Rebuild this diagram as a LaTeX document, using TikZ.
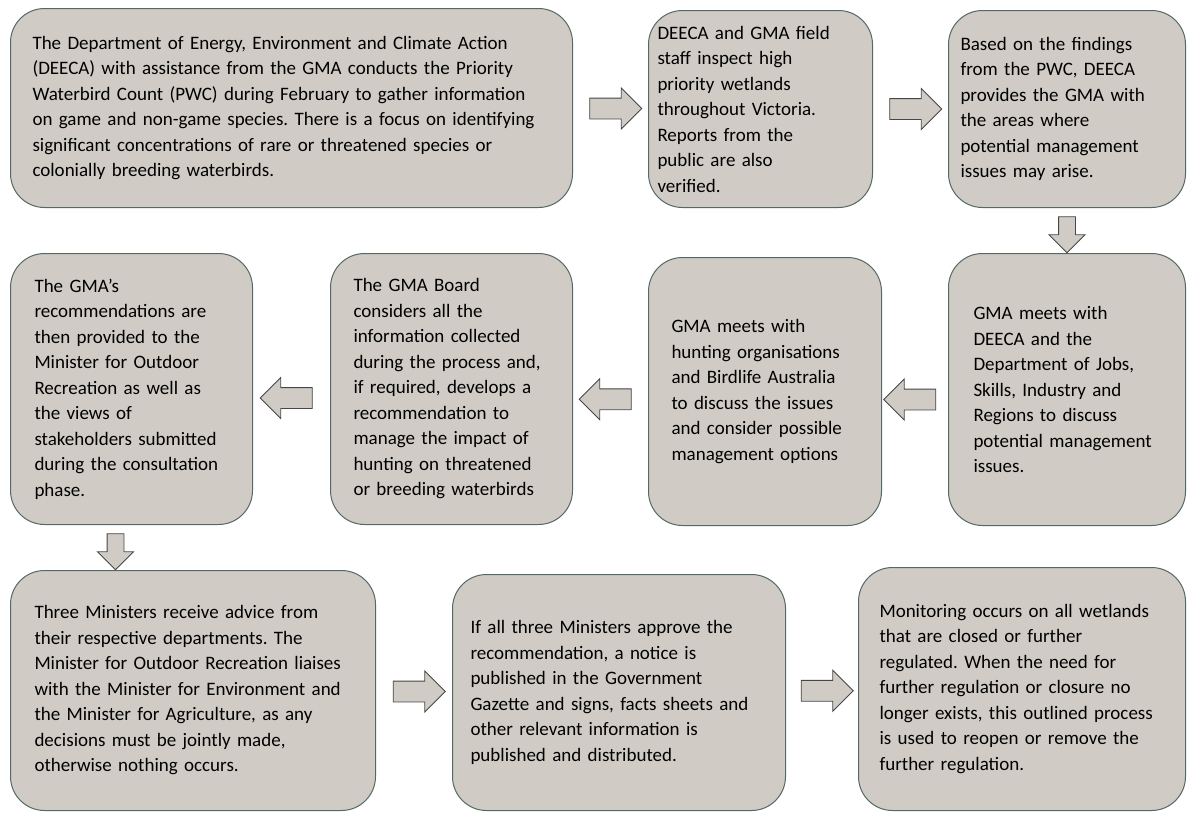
\documentclass[tikz,border=0pt]{standalone}
\usepackage{fontspec}
\setmainfont{Carlito}
\usetikzlibrary{shapes.arrows,calc}
\definecolor{boxfill}{RGB}{208,204,197}
\definecolor{boxline}{RGB}{84,104,100}
\definecolor{arrowline}{RGB}{70,70,70}
\frenchspacing
\hyphenpenalty=10000
\tikzset{
  stage/.style={draw=boxline,fill=boxfill,line width=1pt,rounded corners=34pt,anchor=north west,align=left,inner ysep=0pt,font=\fontsize{19}{25.5}\selectfont},
  blockarrow/.style={single arrow,draw=arrowline,fill=boxfill,line width=0.9pt,inner xsep=0pt,inner ysep=10pt,minimum height=52pt,single arrow head extend=10pt},
  downarrow/.style={blockarrow,inner xsep=8pt,inner ysep=0pt,minimum height=36pt,single arrow head extend=9.5pt,shape border rotate=270}
}
\begin{document}
\begin{tikzpicture}[x=1pt,y=-1pt]
	\useasboundingbox (0,0) rectangle (1187,812);
	% top row
	\node[stage,minimum width=562pt,minimum height=199pt,text width=518pt,inner xsep=22pt] (pwc) at (10,8) {The Department of Energy, Environment and Climate Action\\(DEECA) with assistance from the GMA conducts the Priority\\Waterbird Count (PWC) during February to gather information\\on game and non-game species. There is a focus on identifying\\significant concentrations of rare or threatened species or\\colonially breeding waterbirds.};
	\node[stage,minimum width=224pt,minimum height=197pt,text width=206pt,inner xsep=9pt] (inspect) at (648,10) {DEECA and GMA field\\staff inspect high\\priority wetlands\\throughout Victoria.\\Reports from the\\public are also\\verified.};
	\node[stage,minimum width=237pt,minimum height=197pt,text width=213pt,inner xsep=12pt] (areas) at (948,10) {Based on the findings\\from the PWC, DEECA\\provides the GMA with\\the areas where\\potential management\\issues may arise.};
	% middle row
	\node[stage,minimum width=237pt,minimum height=272pt,text width=187pt,inner xsep=25pt] (deeca) at (948,253) {GMA meets with\\DEECA and the\\Department of Jobs,\\Skills, Industry and\\Regions to discuss\\potential management\\issues.};
	\node[stage,minimum width=233pt,minimum height=268pt,text width=187pt,inner xsep=23pt] (hunters) at (648,257) {GMA meets with\\hunting organisations\\and Birdlife Australia\\to discuss the issues\\and consider possible\\management options};
	\node[stage,minimum width=242pt,minimum height=271pt,text width=196pt,inner xsep=23pt] (board) at (330,253) {The GMA Board\\considers all the\\information collected\\during the process and,\\if required, develops a\\recommendation to\\manage the impact of\\hunting on threatened\\or breeding waterbirds};
	\node[stage,minimum width=242pt,minimum height=271pt,text width=194pt,inner xsep=24pt] (recs) at (10,253) {The GMA’s\\recommendations are\\then provided to the\\Minister for Outdoor\\Recreation as well as\\the views of\\stakeholders submitted\\during the consultation\\phase.};
	% bottom row
	\node[stage,minimum width=365pt,minimum height=240pt,text width=317pt,inner xsep=24pt] (ministers) at (10,570) {Three Ministers receive advice from\\their respective departments. The\\Minister for Outdoor Recreation liaises\\with the Minister for Environment and\\the Minister for Agriculture, as any\\decisions must be jointly made,\\otherwise nothing occurs.};
	\node[stage,minimum width=333pt,minimum height=236pt,text width=297pt,inner xsep=18pt] (gazette) at (452,574) {If all three Ministers approve the\\recommendation, a notice is\\published in the Government\\Gazette and signs, facts sheets and\\other relevant information is\\published and distributed.};
	\node[stage,minimum width=327pt,minimum height=243pt,text width=285pt,inner xsep=21pt] (monitor) at (858,567) {Monitoring occurs on all wetlands\\that are closed or further\\regulated. When the need for\\further regulation or closure no\\longer exists, this outlined process\\is used to reopen or remove the\\further regulation.};
	% arrows
	\node[blockarrow] (a1) at ($(pwc.east)!0.5!(inspect.west)$) {};
	\node[blockarrow] (a2) at ($(inspect.east)!0.5!(areas.west)$) {};
	\node[downarrow] (a3) at ($(areas.south)!0.5!(deeca.north)$) {};
	\node[blockarrow,shape border rotate=180] (a4) at ($(deeca.west)!0.5!(hunters.east)+(0,9)$) {};
	\node[blockarrow,shape border rotate=180] (a5) at ($(hunters.west)!0.5!(board.east)+(0,9)$) {};
	\node[blockarrow,shape border rotate=180] (a6) at ($(board.west)!0.5!(recs.east)+(0,9)$) {};
	\node[downarrow] (a7) at ($(recs.south)!0.5!(recs.south|-ministers.north)+(-16,0)$) {};
	\node[blockarrow] (a8) at ($(ministers.east)!0.5!(gazette.west)$) {};
	\node[blockarrow] (a9) at ($(gazette.east)!0.5!(monitor.west)$) {};
\end{tikzpicture}
\end{document}
